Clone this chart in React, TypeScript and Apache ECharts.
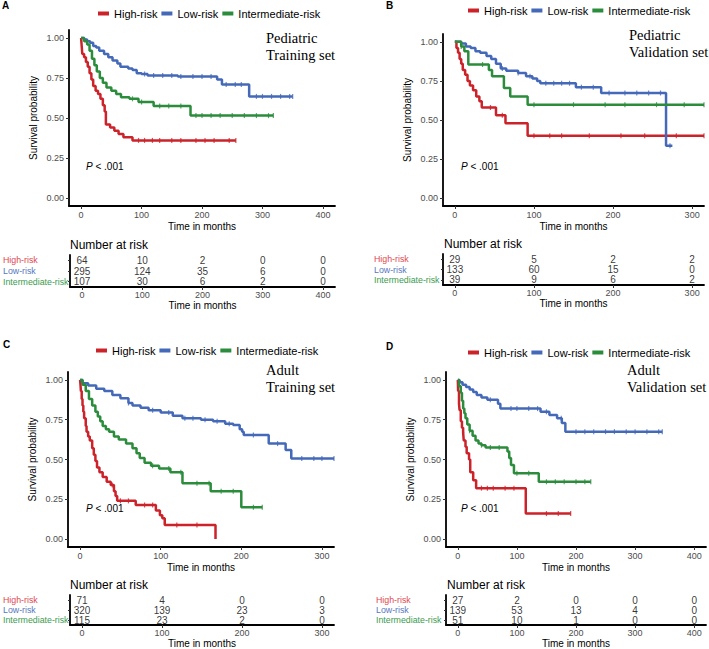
import { useEffect, useRef } from "react";
import * as echarts from "echarts";

const GROUPS = ["High-risk", "Low-risk", "Intermediate-risk"];
const COLORS = ["#cc2229", "#4469b8", "#2b8c3c"];
const LABEL_COLORS = ["#e0474f", "#5577c0", "#3a9b4f"];

// ---------- Panel A: Pediatric training set ----------
const A_high = [[0,1],[1,0.95],[2,0.9],[5,0.88],[8,0.85],[11,0.82],[14,0.78],[17,0.74],[20,0.7],[24,0.67],[28,0.65],[32,0.62],[36,0.58],[39,0.54],[41,0.46],[48,0.44],[55,0.42],[62,0.4],[70,0.38],[85,0.36]];
const A_low = [[0,1],[5,0.99],[10,0.98],[15,0.97],[20,0.95],[25,0.94],[30,0.92],[38,0.9],[45,0.88],[52,0.86],[60,0.84],[65,0.82],[78,0.81],[85,0.8],[92,0.78],[100,0.775],[110,0.765],[160,0.76],[225,0.74],[233,0.71],[278,0.635]];
const A_inter = [[0,1],[5,0.98],[10,0.96],[14,0.92],[18,0.87],[22,0.83],[26,0.79],[31,0.75],[36,0.72],[42,0.69],[50,0.67],[58,0.65],[66,0.63],[80,0.62],[95,0.6],[120,0.575],[181,0.515]];
const A_end = [256, 350, 318];
const A_cens_high = [95,105,118,130,150,165,190,205,220,245,256];
const A_cens_low = [105,120,135,150,165,185,200,215,240,255,265,290,300,315,330,345,350];
const A_cens_inter = [85,100,130,145,165,190,200,215,230,250,270,290,310,318];
const A_times = [0,100,200,300,400];
const A_risk_high = [64,10,2,0,0];
const A_risk_low = [295,124,35,6,0];
const A_risk_inter = [107,30,6,2,0];

// ---------- Panel B: Pediatric validation set ----------
const B_high = [[0,1],[2,0.96],[4,0.93],[6,0.89],[8,0.86],[10,0.82],[13,0.79],[16,0.75],[19,0.72],[23,0.69],[27,0.65],[31,0.62],[34,0.58],[52,0.53],[64,0.48],[92,0.4]];
const B_low = [[0,1],[8,0.99],[14,0.97],[20,0.96],[26,0.94],[32,0.93],[40,0.91],[46,0.89],[52,0.86],[58,0.83],[65,0.815],[80,0.8],[90,0.78],[98,0.765],[104,0.75],[108,0.735],[153,0.71],[185,0.673],[267,0.336]];
const B_inter = [[0,1],[8,0.97],[12,0.94],[17,0.855],[43,0.82],[47,0.78],[62,0.705],[70,0.65],[92,0.598]];
const B_end = [315, 275, 315];
const B_cens_high = [45,60,100,120,135,170,210,240,280,315];
const B_cens_low = [60,80,95,115,125,135,145,160,175,195,215,230,245,260,272];
const B_cens_inter = [8,35,100,150,190,215,255,290,315];
const B_times = [0,100,200,300];
const B_risk_high = [29,5,2,2];
const B_risk_low = [133,60,15,0];
const B_risk_inter = [39,9,6,2];

// ---------- Panel C: Adult training set ----------
const C_high = [[0,1],[0.5,0.97],[1,0.93],[2,0.88],[3,0.84],[4,0.8],[5,0.76],[7,0.71],[8,0.675],[10,0.645],[12,0.62],[15,0.57],[17,0.53],[19,0.49],[21,0.45],[24,0.42],[28,0.39],[33,0.36],[38,0.34],[42,0.3],[44,0.27],[46,0.24],[69,0.214],[94,0.18],[99,0.15],[102,0.13],[105,0.088],[168,0]];
const C_low = [[0,1],[3,0.98],[10,0.965],[20,0.945],[30,0.93],[40,0.905],[50,0.885],[60,0.855],[65,0.84],[75,0.825],[85,0.81],[100,0.795],[115,0.775],[127,0.76],[150,0.75],[165,0.74],[180,0.725],[190,0.717],[198,0.69],[201,0.675],[203,0.654],[234,0.6],[255,0.56],[262,0.507]];
const C_inter = [[0,1],[3,0.97],[7,0.93],[11,0.88],[15,0.84],[19,0.8],[22,0.77],[25,0.74],[28,0.71],[32,0.69],[36,0.675],[42,0.645],[48,0.625],[57,0.6],[65,0.57],[70,0.54],[74,0.51],[80,0.48],[88,0.46],[98,0.444],[112,0.42],[127,0.35],[162,0.3],[200,0.2]];
const C_end = [168, 315, 226];
const C_cens_high = [40,50,60,80,90,120,145];
const C_cens_low = [60,90,110,130,140,155,170,185,215,245,275,290,300,315];
const C_cens_inter = [90,110,125,145,160,175,190,215,226];
const C_times = [0,100,200,300];
const C_risk_high = [71,4,0,0];
const C_risk_low = [320,139,23,3];
const C_risk_inter = [115,23,2,0];

// ---------- Panel D: Adult validation set ----------
const D_high = [[0,1],[0.5,0.93],[2,0.85],[3,0.81],[5,0.74],[7,0.7],[9,0.67],[10,0.62],[13,0.58],[15,0.54],[19,0.5],[21,0.42],[26,0.37],[31,0.32],[115,0.16]];
const D_low = [[0,1],[3,0.985],[8,0.97],[14,0.955],[20,0.94],[26,0.925],[32,0.905],[40,0.89],[50,0.875],[68,0.85],[72,0.82],[140,0.8],[155,0.78],[168,0.76],[176,0.73],[182,0.675]];
const D_inter = [[0,1],[2,0.96],[5,0.92],[7,0.87],[9,0.82],[11,0.79],[13,0.76],[16,0.72],[20,0.68],[25,0.65],[30,0.62],[35,0.6],[40,0.59],[47,0.575],[84,0.55],[87,0.51],[90,0.465],[95,0.413],[137,0.36]];
const D_end = [191, 346, 225];
const D_cens_high = [40,50,60,80,95,150,170,191];
const D_cens_low = [55,90,100,120,135,150,175,200,215,230,250,265,285,300,320,340,346];
const D_cens_inter = [20,40,55,70,100,120,150,165,180,200,215,225];
const D_times = [0,100,200,300,400];
const D_risk_high = [27,2,0,0,0];
const D_risk_low = [139,53,13,4,0];
const D_risk_inter = [51,10,1,0,0];

const Y_TICKS = [0, 0.25, 0.5, 0.75, 1];

const SANS = '"Liberation Sans", Arial, Helvetica, sans-serif';
const SERIF = '"Liberation Serif", "Times New Roman", serif';

const panels = [
  {
    id: "A", letter: [2, 5], title: ["Pediatric", "Training set"], titlePos: [266, 38], pPos: [86, 166],
    curves: [A_high, A_low, A_inter], ends: A_end, cens: [A_cens_high, A_cens_low, A_cens_inter],
    times: A_times, risk: [A_risk_high, A_risk_low, A_risk_inter], xMin: -20, xMax: 420,
    plot: { left: 69, top: 30, width: 266, height: 176 }, table: { left: 69, top: 255, height: 32 }, rowLabelX: 2,
    legend: [93, 3], nar: [70, 245],
  },
  {
    id: "B", letter: [386, 5], title: ["Pediatric", "Validation set"], titlePos: [629, 35], pPos: [461, 166],
    curves: [B_high, B_low, B_inter], ends: B_end, cens: [B_cens_high, B_cens_low, B_cens_inter],
    times: B_times, risk: [B_risk_high, B_risk_low, B_risk_inter], xMin: -15, xMax: 315,
    plot: { left: 443, top: 34, width: 261, height: 172 }, table: { left: 443, top: 254, height: 31 }, rowLabelX: 374,
    legend: [463, 0], nar: [444, 244],
  },
  {
    id: "C", letter: [3, 344], title: ["Adult", "Training set"], titlePos: [266, 370], pPos: [86, 508],
    curves: [C_high, C_low, C_inter], ends: C_end, cens: [C_cens_high, C_cens_low, C_cens_inter],
    times: C_times, risk: [C_risk_high, C_risk_low, C_risk_inter], xMin: -15, xMax: 315,
    plot: { left: 68, top: 372, width: 266, height: 175 }, table: { left: 68, top: 595, height: 31 }, rowLabelX: 1,
    legend: [91, 340], nar: [70, 585],
  },
  {
    id: "D", letter: [386, 346], title: ["Adult", "Validation set"], titlePos: [627, 370], pPos: [461, 508],
    curves: [D_high, D_low, D_inter], ends: D_end, cens: [D_cens_high, D_cens_low, D_cens_inter],
    times: D_times, risk: [D_risk_high, D_risk_low, D_risk_inter], xMin: -20, xMax: 420,
    plot: { left: 446, top: 372, width: 260, height: 175 }, table: { left: 446, top: 595, height: 31 }, rowLabelX: 376,
    legend: [463, 342], nar: [447, 585],
  },
];

function survAt(curve: number[][], t: number) {
  let v = curve[0][1];
  for (const [x, y] of curve) if (x <= t) v = y;
  return v;
}

function buildOption() {
  const grid: any[] = [];
  const xAxis: any[] = [];
  const yAxis: any[] = [];
  const series: any[] = [];
  const legend: any[] = [];
  const graphic: any[] = [];

  const axisLine = { show: true, onZero: false, lineStyle: { color: "#000", width: 1.8 } };
  const axisTick = (vals?: number[]) => ({ show: true, length: 3, lineStyle: { color: "#333", width: 1 }, ...(vals ? { customValues: vals } : {}) });

  panels.forEach((p) => {
    const gi = grid.length;
    grid.push({ left: p.plot.left, top: p.plot.top, width: p.plot.width, height: p.plot.height });
    xAxis.push({
      gridIndex: gi, type: "value", min: p.xMin, max: p.xMax,
      axisLine, axisTick: axisTick(p.times),
      axisLabel: { customValues: p.times, margin: 4, fontSize: 9, color: "#4d4d4d", fontFamily: SANS },
      splitLine: { show: false },
      name: "Time in months", nameLocation: "middle", nameGap: 15,
      nameTextStyle: { fontSize: 10, color: "#000", fontFamily: SANS },
    });
    yAxis.push({
      gridIndex: gi, type: "value", min: -0.05, max: 1.05,
      axisLine, axisTick: axisTick(Y_TICKS),
      axisLabel: { customValues: Y_TICKS, margin: 5, fontSize: 9, color: "#4d4d4d", fontFamily: SANS, formatter: (v: number) => v.toFixed(2) },
      splitLine: { show: false },
      name: "Survival probability", nameLocation: "middle", nameGap: 31,
      nameTextStyle: { fontSize: 10, color: "#000", fontFamily: SANS },
    });

    p.curves.forEach((c, k) => {
      const last = c[c.length - 1];
      const data = [...c, [p.ends[k], last[1]]];
      series.push({
        type: "line", name: GROUPS[k], xAxisIndex: gi, yAxisIndex: gi, data, step: "end",
        showSymbol: false, symbol: "none", lineStyle: { width: 2.5, color: COLORS[k] },
        itemStyle: { color: COLORS[k] }, z: 2 + k, silent: true,
      });
      series.push({
        type: "scatter", name: p.id + "-censor-" + k, xAxisIndex: gi, yAxisIndex: gi,
        data: p.cens[k].map((t) => [t, survAt(c, t)]),
        symbol: "rect", symbolSize: [1.2, 5], itemStyle: { color: COLORS[k] }, z: 2 + k, silent: true,
      });
    });

    legend.push({
      left: p.legend[0], top: p.legend[1], data: GROUPS, icon: "rect", itemWidth: 11, itemHeight: 4,
      itemGap: 4, textStyle: { fontSize: 11, color: "#000", fontFamily: SANS }, selectedMode: false,
    });

    // risk table grid
    const ti = grid.length;
    grid.push({ left: p.table.left, top: p.table.top, width: p.plot.width, height: p.table.height });
    xAxis.push({
      gridIndex: ti, type: "value", min: p.xMin, max: p.xMax, position: "bottom",
      axisLine, axisTick: axisTick(p.times),
      axisLabel: { customValues: p.times, margin: 3, fontSize: 9, color: "#4d4d4d", fontFamily: SANS },
      splitLine: { show: false },
      name: "Time in months", nameLocation: "middle", nameGap: 13,
      nameTextStyle: { fontSize: 10, color: "#000", fontFamily: SANS },
    });
    yAxis.push({
      gridIndex: ti, type: "category", data: GROUPS, inverse: true,
      axisLine, axisTick: { show: true, alignWithLabel: true, interval: 0, length: 2, lineStyle: { color: "#333" } },
      axisLabel: {
        interval: 0, hideOverlap: false,
        margin: p.table.left - p.rowLabelX, align: "left", fontSize: 8.8, fontFamily: SANS,
        color: (v: string) => LABEL_COLORS[GROUPS.indexOf(v)],
      },
      splitLine: { show: false },
    });
    const tdata: any[] = [];
    p.risk.forEach((row, k) => row.forEach((n, j) => tdata.push([p.times[j], GROUPS[k], n])));
    series.push({
      type: "scatter", name: p.id + "-risk", xAxisIndex: ti, yAxisIndex: ti, data: tdata,
      symbolSize: 1, itemStyle: { color: "rgba(0,0,0,0)" }, silent: true,
      label: { show: true, position: "inside", offset: [0, -1.5], formatter: (q: any) => String(q.value[2]), fontSize: 10, color: "#000", fontFamily: SANS },
      labelLayout: { hideOverlap: false },
    });

    // texts
    graphic.push({
      type: "text", x: p.letter[0], y: p.letter[1],
      style: { text: p.id, font: `bold 10px ${SANS}`, fill: "#000", textVerticalAlign: "middle", verticalAlign: "middle" },
    });
    graphic.push({
      type: "text", x: p.titlePos[0], y: p.titlePos[1],
      style: { text: p.title[0], font: `14.5px ${SERIF}`, fill: "#000", textVerticalAlign: "middle", verticalAlign: "middle" },
    });
    graphic.push({
      type: "text", x: p.titlePos[0], y: p.titlePos[1] + 17,
      style: { text: p.title[1], font: `14.5px ${SERIF}`, fill: "#000", textVerticalAlign: "middle", verticalAlign: "middle" },
    });
    graphic.push({
      type: "text", x: p.pPos[0], y: p.pPos[1],
      style: {
        text: "{i|P} < .001", font: `10px ${SANS}`, fill: "#000", textVerticalAlign: "middle", verticalAlign: "middle",
        rich: { i: { fontStyle: "italic", fontSize: 10, fontFamily: SANS, fill: "#000" } },
      },
    });
    graphic.push({
      type: "text", x: p.nar[0], y: p.nar[1],
      style: { text: "Number at risk", font: `12px ${SANS}`, fill: "#000", textVerticalAlign: "middle", verticalAlign: "middle" },
    });
  });

  return { animation: false, backgroundColor: "#fff", grid, xAxis, yAxis, series, legend, graphic };
}

export default function App() {
  const ref = useRef<HTMLDivElement>(null);
  useEffect(() => {
    const chart = echarts.init(ref.current!, null, { renderer: "svg" });
    chart.setOption(buildOption() as any);
    return () => chart.dispose();
  }, []);
  return <div ref={ref} style={{ position: "absolute", left: 0, top: 0, width: 709, height: 649, background: "#fff" }} />;
}
